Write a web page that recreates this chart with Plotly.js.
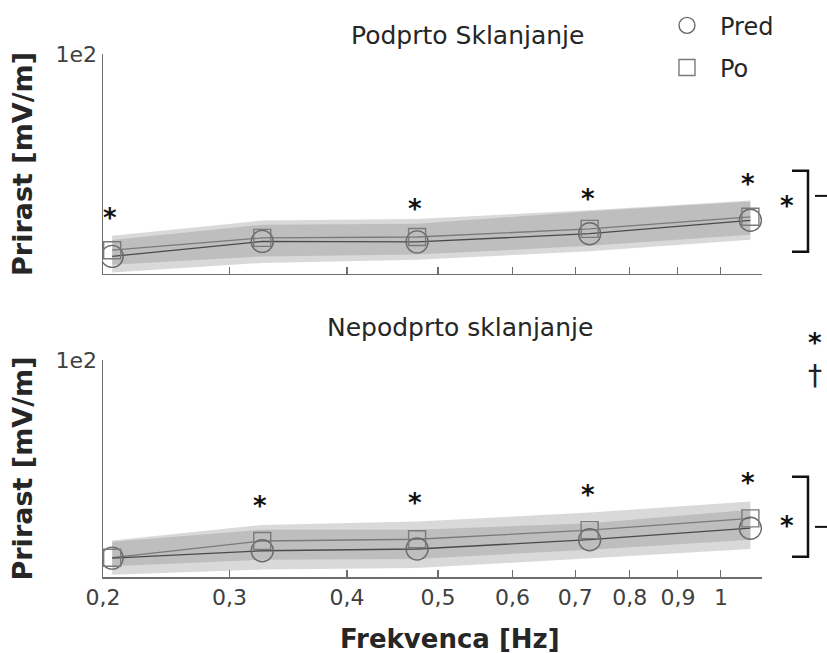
<!DOCTYPE html>
<html>
<head>
<meta charset="utf-8">
<script src="https://cdn.plot.ly/plotly-3.0.1.min.js"></script>
<style>html,body{margin:0;padding:0;background:#fff;}#chart{width:827px;height:653px;}</style>
</head>
<body>
<div id="chart"></div>
<script>
// ---- data ----
const freq = [0.225, 0.325, 0.475, 0.725, 1.075];
const xTickVals = [0.22, 0.3, 0.4, 0.5, 0.6, 0.7, 0.8, 0.9, 1];
const xTickText = ['0,2', '0,3', '0,4', '0,5', '0,6', '0,7', '0,8', '0,9', '1'];
const yTickVals = [100];
const yTickText = ['1e2'];

// Podprto Sklanjanje (top)
const topPred = [8.0, 14.8, 14.6, 18.3, 24.4];
const topPo = [10.8, 16.4, 16.8, 20.5, 26.0];
const topPredLow = [0.7, 5.0, 6.5, 10.3, 15.6];
const topPredHigh = [15.5, 22.4, 22.8, 28.5, 33.0];
const topPoLow = [4.2, 8.0, 8.8, 12.8, 17.8];
const topPoHigh = [17.4, 24.3, 25.0, 29.0, 33.4];
const topStarX = [0.225, 0.475, 0.725, 1.075];
const topStarY = [28.3, 32.4, 36.9, 43.7];

// Nepodprto sklanjanje (bottom)
const botPred = [8.7, 12.1, 12.9, 17.2, 22.5];
const botPo = [8.9, 16.6, 17.4, 21.6, 27.0];
const botPredLow = [1.0, 3.4, 4.1, 8.7, 12.9];
const botPredHigh = [16.3, 21.8, 21.8, 24.8, 31.0];
const botPoLow = [4.9, 8.0, 8.3, 12.6, 17.2];
const botPoHigh = [16.8, 24.0, 25.6, 29.7, 34.8];
const botStarX = [0.325, 0.475, 0.725, 1.075];
const botStarY = [35.6, 37.0, 40.6, 46.2];

const seriesNames = ['Pred', 'Po'];
const panelTitles = ['Podprto Sklanjanje', 'Nepodprto sklanjanje'];
const xTitle = 'Frekvenca [Hz]';
const yTitle = 'Prirast [mV/m]';

// ---- styling ----
const FONT = 'DejaVu Sans, Verdana, sans-serif';
const bandFill = 'rgba(128,128,128,0.30)';
const predLine = '#4a4a4a';
const poLine = '#7a7a7a';
const markerCol = '#6a6a6a';
const axisCol = '#6e6e6e';

function panel(xa, ya, pred, po, pl, ph, ol, oh, legend) {
  const t = [];
  t.push({x: freq, y: pl, xaxis: xa, yaxis: ya, mode: 'lines', line: {width: 0}, showlegend: false, hoverinfo: 'skip'});
  t.push({x: freq, y: ph, xaxis: xa, yaxis: ya, mode: 'lines', line: {width: 0}, fill: 'tonexty', fillcolor: bandFill, showlegend: false, hoverinfo: 'skip'});
  t.push({x: freq, y: ol, xaxis: xa, yaxis: ya, mode: 'lines', line: {width: 0}, showlegend: false, hoverinfo: 'skip'});
  t.push({x: freq, y: oh, xaxis: xa, yaxis: ya, mode: 'lines', line: {width: 0}, fill: 'tonexty', fillcolor: bandFill, showlegend: false, hoverinfo: 'skip'});
  t.push({x: freq, y: po, xaxis: xa, yaxis: ya, mode: 'lines', line: {color: poLine, width: 1.3}, showlegend: false});
  t.push({x: freq, y: pred, xaxis: xa, yaxis: ya, mode: 'lines', line: {color: predLine, width: 1.3}, showlegend: false});
  t.push({x: freq, y: pred, xaxis: xa, yaxis: ya, mode: 'markers', name: seriesNames[0], legendgroup: 'a',
    marker: {symbol: 'circle-open', size: 22, color: markerCol, line: {width: 1.4, color: markerCol}}, showlegend: legend});
  t.push({x: freq, y: po, xaxis: xa, yaxis: ya, mode: 'markers', name: seriesNames[1], legendgroup: 'b',
    marker: {symbol: 'square-open', size: 17, color: '#7a7a7a', line: {width: 1.4, color: '#7a7a7a'}}, showlegend: legend});
  return t;
}

const data = [].concat(
  panel('x', 'y', topPred, topPo, topPredLow, topPredHigh, topPoLow, topPoHigh, true),
  panel('x2', 'y2', botPred, botPo, botPredLow, botPredHigh, botPoLow, botPoHigh, false)
);

const xr = [Math.log10(0.22), Math.log10(1.106)];
function xaxisDef(anchor, labels) {
  return {
    type: 'log', range: xr, domain: [0, 1], anchor: anchor,
    tickvals: xTickVals, ticktext: xTickText, showticklabels: labels,
    ticks: 'inside', ticklen: 7, tickwidth: 1.2, tickcolor: axisCol,
    showline: true, linecolor: axisCol, linewidth: 1.5, showgrid: false, zeroline: false,
    tickfont: {family: FONT, size: 22, color: '#404040'}
  };
}
function yaxisDef(anchor, dom) {
  return {
    range: [0, 100], domain: dom, anchor: anchor,
    tickvals: yTickVals, ticktext: yTickText,
    ticks: 'inside', ticklen: 7, tickwidth: 1.2, tickcolor: axisCol,
    showline: true, linecolor: axisCol, linewidth: 1.5, showgrid: false, zeroline: false,
    tickfont: {family: FONT, size: 22, color: '#404040'},
    title: {text: yTitle, standoff: 15, font: {family: FONT, size: 27, weight: 'bold', color: '#262626'}}
  };
}

const annotations = [];
annotations.push({xref: 'paper', yref: 'paper', x: 0.5524, y: 1.036, text: panelTitles[0], showarrow: false,
  xanchor: 'center', yanchor: 'middle', font: {family: FONT, size: 25, color: '#262626'}});
annotations.push({xref: 'paper', yref: 'paper', x: 0.542, y: 0.478, text: panelTitles[1], showarrow: false,
  xanchor: 'center', yanchor: 'middle', font: {family: FONT, size: 25, color: '#262626'}});
// x axis title (placed to match the reference's off-centre position)
annotations.push({xref: 'paper', yref: 'paper', x: 0.526, y: -0.118, text: xTitle, showarrow: false,
  xanchor: 'center', yanchor: 'middle', font: {family: FONT, size: 26, weight: 'bold', color: '#262626'}});
const starFont = {family: FONT, size: 26, weight: 'bold', color: '#111'};
topStarX.forEach((x, i) => annotations.push({xref: 'x', yref: 'y', x: Math.log10(x), y: topStarY[i], text: '*', showarrow: false, xanchor: 'center', xshift: -2, yshift: -6, font: starFont}));
botStarX.forEach((x, i) => annotations.push({xref: 'x2', yref: 'y2', x: Math.log10(x), y: botStarY[i], text: '*', showarrow: false, xanchor: 'center', xshift: -2, yshift: -6, font: starFont}));
// bracket stars
annotations.push({xref: 'paper', yref: 'y', x: 1.038, y: 33.7, text: '*', showarrow: false, xanchor: 'center', yshift: -6, font: starFont});
annotations.push({xref: 'paper', yref: 'y2', x: 1.038, y: 26.4, text: '*', showarrow: false, xanchor: 'center', yshift: -6, font: starFont});
// top-right key symbols
annotations.push({xref: 'paper', yref: 'paper', x: 1.0804, y: 0.4589, text: '*', showarrow: false, xanchor: 'center', yshift: -6, font: starFont});
annotations.push({xref: 'paper', yref: 'paper', x: 1.0804, y: 0.3862, text: '†', showarrow: false, xanchor: 'center', font: {family: FONT, size: 28, color: '#222'}});

const shapes = [
  {type: 'path', xref: 'paper', yref: 'y', path: 'M 1.0455 46.9 L 1.0698 46.9 L 1.0698 10.1 L 1.0455 10.1', line: {color: '#111', width: 2.5}},
  {type: 'line', xref: 'paper', yref: 'y', x0: 1.0804, x1: 1.1, y0: 35.5, y1: 35.5, line: {color: '#111', width: 2}},
  {type: 'path', xref: 'paper', yref: 'y2', path: 'M 1.0455 46.2 L 1.0698 46.2 L 1.0698 9.3 L 1.0455 9.3', line: {color: '#111', width: 2.5}},
  {type: 'line', xref: 'paper', yref: 'y2', x0: 1.0804, x1: 1.1, y0: 23.1, y1: 23.1, line: {color: '#111', width: 2}}
];

const layout = {
  width: 827, height: 653,
  margin: {l: 103, r: 65, t: 54, b: 76, autoexpand: false},
  paper_bgcolor: '#fff', plot_bgcolor: 'rgba(0,0,0,0)',
  font: {family: FONT, color: '#262626'},
  xaxis: xaxisDef('y', false),
  xaxis2: xaxisDef('y2', true),
  yaxis: yaxisDef('x', [0.5794, 1]),
  yaxis2: yaxisDef('x2', [0, 0.4149]),
  showlegend: true,
  legend: {x: 0.8361, y: 1.097, xanchor: 'left', yanchor: 'top', bgcolor: 'rgba(0,0,0,0)', borderwidth: 0,
    font: {family: FONT, size: 24, color: '#262626'}, traceorder: 'grouped', tracegroupgap: 8, itemwidth: 56, itemsizing: 'trace'},
  annotations: annotations,
  shapes: shapes
};

Plotly.newPlot('chart', data, layout, {displayModeBar: false, staticPlot: true});
</script>
</body>
</html>
